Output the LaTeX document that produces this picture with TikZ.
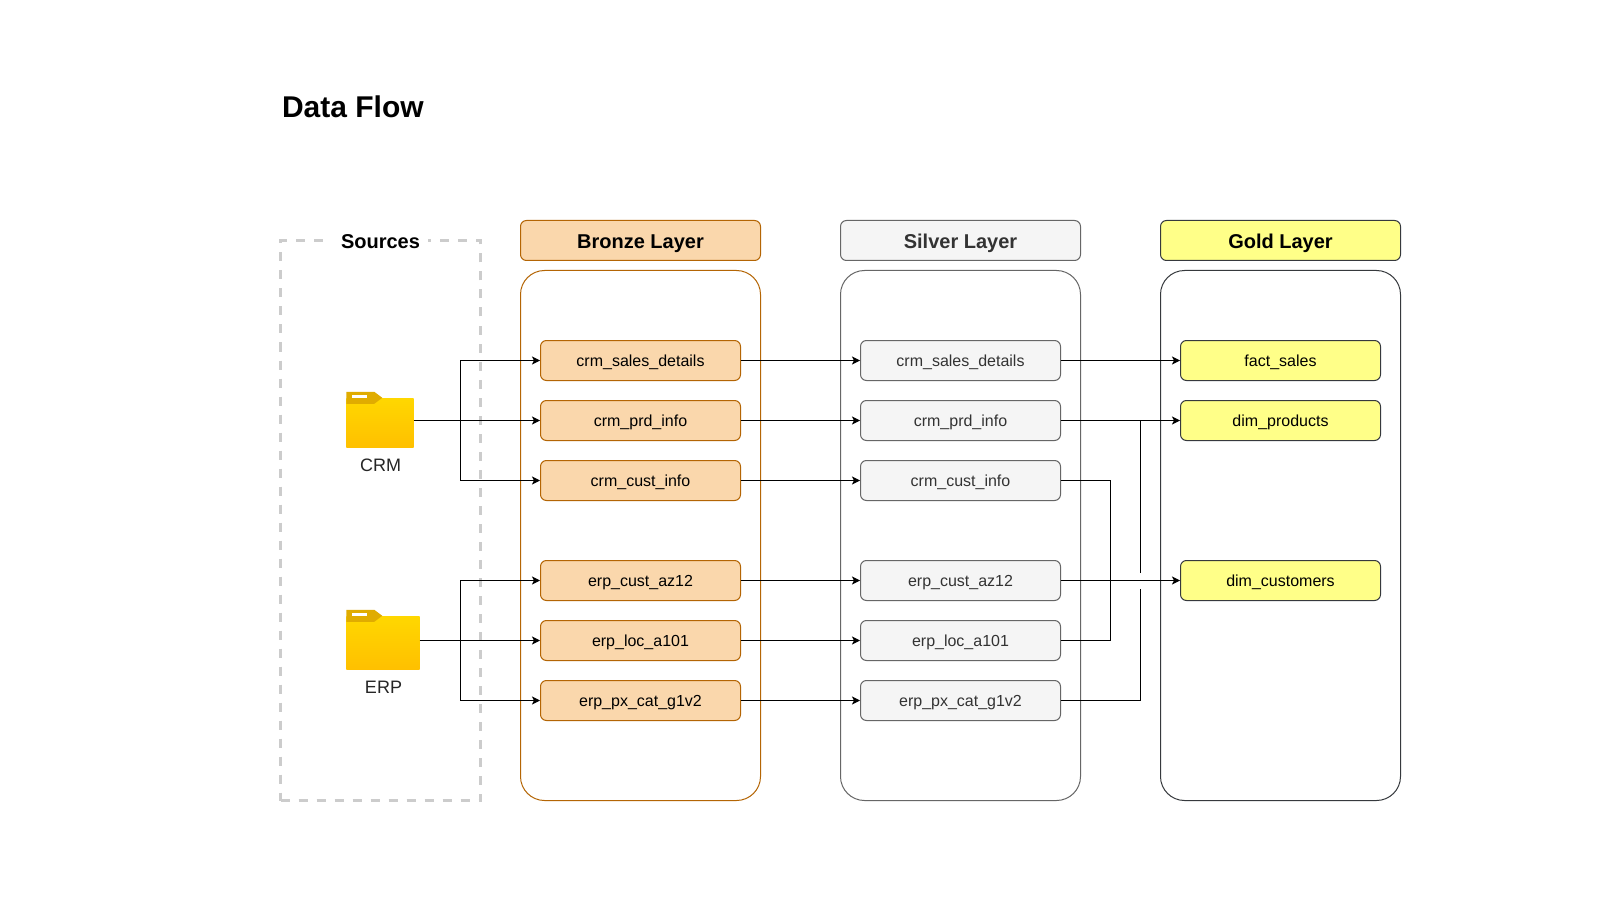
\documentclass[tikz,border=0pt]{standalone}
\usepackage{fontspec}
\setmainfont{Liberation Sans}
\usetikzlibrary{arrows.meta,calc}
\definecolor{bronzeF}{HTML}{FAD7AC}
\definecolor{bronzeS}{HTML}{B46504}
\definecolor{silverF}{HTML}{F5F5F5}
\definecolor{silverS}{HTML}{666666}
\definecolor{silverT}{HTML}{333333}
\definecolor{goldF}{HTML}{FFFF88}
\definecolor{goldS}{HTML}{36393D}
\definecolor{folderTop}{HTML}{FFD700}
\definecolor{folderBot}{HTML}{FFC000}
\definecolor{folderTab}{HTML}{E0AC00}
\tikzset{
  every node/.style={font=\fontsize{16}{19}\selectfont},
  tbl/.style={rectangle,rounded corners=6pt,minimum width=200pt,minimum height=40pt,inner sep=0pt,line width=1pt,text height=14pt,text depth=3pt},
  hdr/.style={rectangle,rounded corners=6pt,minimum width=240pt,minimum height=40pt,inner sep=0pt,line width=1pt,font=\fontsize{20}{24}\selectfont\bfseries,text height=19pt,text depth=3pt},
  box/.style={rectangle,rounded corners=24pt,minimum width=240pt,minimum height=530pt,inner sep=0pt,line width=1pt},
  bronze/.style={draw=bronzeS,fill=bronzeF,text=black},
  silver/.style={draw=silverS,fill=silverF,text=silverT},
  gold/.style={draw=goldS,fill=goldF,text=black},
  flow/.style={draw=black,line width=1pt,-{Stealth[length=8pt,width=8pt,inset=2pt]}},
  plainflow/.style={draw=black,line width=1pt},
  srcbox/.style={draw=black!20,line width=3pt,dash pattern=on 9pt off 9pt,minimum width=200pt,minimum height=560pt,inner sep=0pt,rectangle},
  folder/.style={rectangle,inner sep=0pt},
  caplabel/.style={text=black!85,font=\fontsize{18}{21}\selectfont},
}
\newcommand{\folderdraw}[1]{%
  \coordinate (nw) at (#1.north west);
  \coordinate (se) at (#1.south east);
  \shade[top color=folderTop,bottom color=folderBot]
    ($(nw)+(0,6.5)$) -- ($(se|-nw)+(0,6.5)$) -- (se) -- (se-|nw) -- cycle;
  \path[fill=folderTab] (nw) -- ++(28,0) -- ++(8,6) -- ++(-8,6) -- ++(-28,0) -- cycle;
  \path[fill=white] ($(nw)+(6,3)$) rectangle ++(15,3);
}
\begin{document}
\begin{tikzpicture}[x=1pt,y=-1pt]
\useasboundingbox (0,0) rectangle (1601,901);
\fill[white] (0,0) rectangle (1601,901);
\begin{scope}[xshift=0.5pt,yshift=-0.5pt]
\node[anchor=west,font=\fontsize{30}{36}\selectfont\bfseries] (title) at (278,106.5) {Data Flow};
% sources
\node[srcbox] (src) at (380,520) {};
\fill[white] (326,228) rectangle (427,254);
\node[font=\fontsize{20}{24}\selectfont\bfseries,text height=19pt,text depth=3pt,inner sep=0pt] (srclabel) at (380,240.5) {Sources};
% containers
\node[box,draw=bronzeS] (bbox) at (640,535) {};
\node[box,draw=silverS] (sbox) at (960,535) {};
\node[box,draw=goldS] (gbox) at (1280,535) {};
\node[hdr,bronze] (bh) at (640,240) {Bronze Layer};
\node[hdr,silver] (sh) at (960,240) {Silver Layer};
\node[hdr,gold] (gh) at (1280,240) {Gold Layer};
% bronze
\node[tbl,bronze] (b1) at (640,360) {crm\_sales\_details};
\node[tbl,bronze] (b2) at (640,420) {crm\_prd\_info};
\node[tbl,bronze] (b3) at (640,480) {crm\_cust\_info};
\node[tbl,bronze] (b4) at (640,580) {erp\_cust\_az12};
\node[tbl,bronze] (b5) at (640,640) {erp\_loc\_a101};
\node[tbl,bronze] (b6) at (640,700) {erp\_px\_cat\_g1v2};
% silver
\node[tbl,silver] (s1) at (960,360) {crm\_sales\_details};
\node[tbl,silver] (s2) at (960,420) {crm\_prd\_info};
\node[tbl,silver] (s3) at (960,480) {crm\_cust\_info};
\node[tbl,silver] (s4) at (960,580) {erp\_cust\_az12};
\node[tbl,silver] (s5) at (960,640) {erp\_loc\_a101};
\node[tbl,silver] (s6) at (960,700) {erp\_px\_cat\_g1v2};
% gold
\node[tbl,gold] (g1) at (1280,360) {fact\_sales};
\node[tbl,gold] (g2) at (1280,420) {dim\_products};
\node[tbl,gold] (g3) at (1280,580) {dim\_customers};
% folders
\node[folder,minimum width=67pt,minimum height=55pt] (crm) at (379.5,419) {};
\node[folder,minimum width=73pt,minimum height=59pt] (erp) at (382.5,639) {};
\folderdraw{crm}
\folderdraw{erp}
\node[caplabel] (crml) at (380,464.5) {CRM};
\node[caplabel] (erpl) at (383,686.5) {ERP};
% connectors
\coordinate (tc) at (460,420);
\coordinate (te) at (460,640);
\coordinate (ce) at (crm.east|-tc);
\coordinate (ee) at (erp.east|-te);
\draw[flow] (ce) -- (b2.west);
\draw[flow] (tc) |- (b1.west);
\draw[flow] (tc) |- (b3.west);
\draw[flow] (ee) -- (b5.west);
\draw[flow] (te) |- (b4.west);
\draw[flow] (te) |- (b6.west);
\foreach \i in {1,...,6}{\draw[flow] (b\i.east) -- (s\i.west);}
\draw[flow] (s1.east) -- (g1.west);
\draw[flow] (s2.east) -- (g2.west);
% s6 to g2, with a line jump over the s4 flow
\coordinate (v6) at (1140,700);
\coordinate (v2) at (1140,420);
\coordinate (jl) at (1140,588);
\coordinate (ju) at (1140,572.5);
\draw[plainflow] (s6.east) -- (v6) -- (jl);
\draw[plainflow] (ju) -- (v2);
\coordinate (v3) at (1110,480);
\coordinate (v5) at (1110,640);
\draw[plainflow] (s3.east) -- (v3) -- (v5) -- (s5.east);
\draw[flow] (s4.east) -- (g3.west);
\end{scope}
\end{tikzpicture}
\end{document}
